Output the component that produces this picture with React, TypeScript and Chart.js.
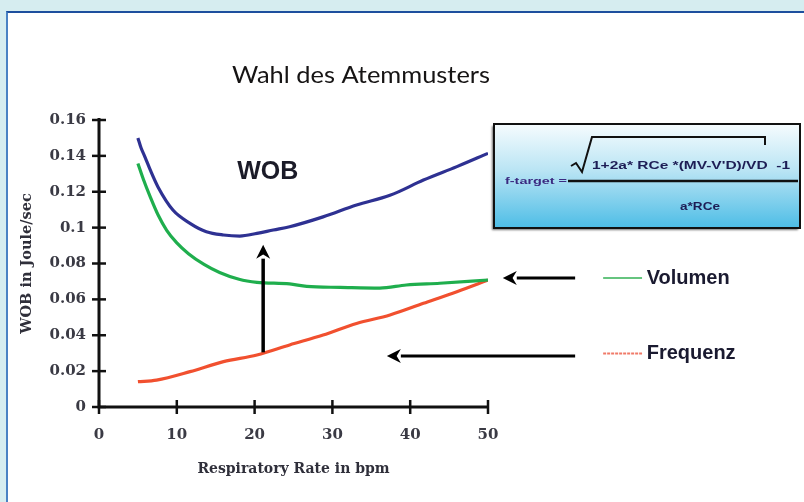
import React, { useEffect, useRef } from 'react';
import { Chart, registerables } from 'chart.js';

Chart.register(...registerables);

// ---- data ----
const xTicks = [0, 10, 20, 30, 40, 50];
const yTickLabels = ['0', '0.02', '0.04', '0.06', '0.08', '0.1', '0.12', '0.14', '0.16'];

const wobRate = [5.0, 5.4, 5.9, 6.6, 7.6, 9.5, 11.7, 13.8, 16.0, 18.1, 20.3, 22.4, 24.5, 28.8, 33.1, 37.4, 41.7, 46.0, 50];
const wobValues = [0.150, 0.1445, 0.1395, 0.132, 0.1225, 0.1098, 0.1024, 0.0977, 0.0959, 0.0953, 0.0968, 0.0987, 0.1005, 0.106, 0.1126, 0.118, 0.1265, 0.134, 0.1414];

const volRate = [5.0, 5.7, 6.6, 7.6, 8.7, 10.0, 11.5, 13.5, 15.5, 18.0, 20.3, 24.5, 26.7, 31.0, 36.1, 39.5, 43.8, 50];
const volValues = [0.1358, 0.127, 0.117, 0.107, 0.0985, 0.0915, 0.0855, 0.0795, 0.075, 0.0712, 0.0695, 0.0686, 0.0672, 0.0667, 0.0663, 0.068, 0.069, 0.0708];

const freqRate = [5.0, 7.4, 11.7, 16.0, 20.3, 24.5, 28.8, 33.1, 37.4, 41.7, 46.0, 50];
const freqValues = [0.0141, 0.015, 0.0197, 0.0253, 0.029, 0.0346, 0.0401, 0.0466, 0.0513, 0.0578, 0.0643, 0.0708];

const seriesNames = ['WOB', 'Volumen', 'Frequenz'];

const pts = (xs: number[], ys: number[]) => xs.map((x, i) => ({ x, y: ys[i] }));

function fitText(ctx: CanvasRenderingContext2D, text: string, x: number, y: number, w: number, align: 'left' | 'center') {
  const m = ctx.measureText(text).width;
  const s = w / m;
  ctx.save();
  ctx.translate(x, y);
  ctx.scale(s, 1);
  ctx.textAlign = 'left';
  ctx.fillText(text, align === 'center' ? -m / 2 : 0, 0);
  ctx.restore();
}

function arrow(ctx: CanvasRenderingContext2D, x0: number, y0: number, x1: number, y1: number) {
  const ang = Math.atan2(y1 - y0, x1 - x0);
  const hl = 14, hw = 7;
  const bx = x1 - Math.cos(ang) * hl, by = y1 - Math.sin(ang) * hl;
  ctx.beginPath();
  ctx.moveTo(x0, y0);
  ctx.lineTo(bx, by);
  ctx.stroke();
  ctx.beginPath();
  ctx.moveTo(x1, y1);
  ctx.lineTo(bx + Math.sin(ang) * hw, by - Math.cos(ang) * hw);
  ctx.lineTo(x1 - Math.cos(ang) * hl * 0.7, y1 - Math.sin(ang) * hl * 0.7);
  ctx.lineTo(bx - Math.sin(ang) * hw, by + Math.cos(ang) * hw);
  ctx.closePath();
  ctx.fill();
}

const axesPlugin = {
  id: 'axesPlugin',
  beforeDatasetsDraw(chart: any) {
    const ctx: CanvasRenderingContext2D = chart.ctx;
    const xs = chart.scales.x, ys = chart.scales.y;
    const X = (v: number) => xs.getPixelForValue(v);
    const Y = (v: number) => ys.getPixelForValue(v);
    ctx.save();
    ctx.strokeStyle = '#111';
    ctx.lineWidth = 3;
    ctx.beginPath();
    ctx.moveTo(X(0), Y(0.16) - 2);
    ctx.lineTo(X(0), Y(0));
    ctx.lineTo(X(50), Y(0));
    ctx.stroke();
    ctx.lineWidth = 2.5;
    ys.ticks.forEach((t: any) => {
      const y = Y(t.value);
      ctx.beginPath();
      ctx.moveTo(X(0) - 7, y);
      ctx.lineTo(X(0) + 7, y);
      ctx.stroke();
    });
    xs.ticks.forEach((t: any) => {
      const x = X(t.value);
      ctx.beginPath();
      ctx.moveTo(x, Y(0) - 7);
      ctx.lineTo(x, Y(0) + 7);
      ctx.stroke();
    });
    ctx.restore();
  },
};

const decorPlugin = {
  id: 'decorPlugin',
  afterDraw(chart: any) {
    const ctx: CanvasRenderingContext2D = chart.ctx;
    const xs = chart.scales.x, ys = chart.scales.y;
    const X = (v: number) => xs.getPixelForValue(v);
    const Y = (v: number) => ys.getPixelForValue(v);
    ctx.save();

    // title
    ctx.fillStyle = '#161414';
    ctx.font = '23px Lato';
    ctx.textBaseline = 'alphabetic';
    fitText(ctx, 'Wahl des Atemmusters', 232, 83, 258, 'left');

    // WOB label
    ctx.font = 'bold 25px "Liberation Sans"';
    ctx.textBaseline = 'middle';
    ctx.textAlign = 'center';
    ctx.fillStyle = '#1b1b28';
    ctx.fillText(seriesNames[0], X(21.7), Y(0.131));

    // arrows
    ctx.strokeStyle = '#000';
    ctx.fillStyle = '#000';
    ctx.lineWidth = 3.5;
    arrow(ctx, X(21.1), Y(0.0305), X(21.1), Y(0.0905));
    ctx.lineWidth = 3;
    arrow(ctx, X(61.2), Y(0.0719), X(51.9), Y(0.0719));
    arrow(ctx, X(61.2), Y(0.0285), X(37.0), Y(0.0285));

    // legend
    const legendItems = [
      { name: seriesNames[1], color: '#66c47f', y: 0.0719, dash: [] as number[] },
      { name: seriesNames[2], color: '#f07a68', y: 0.0298, dash: [3, 1] },
    ];
    legendItems.forEach((it) => {
      ctx.strokeStyle = it.color;
      ctx.lineWidth = 2;
      ctx.setLineDash(it.dash);
      ctx.beginPath();
      ctx.moveTo(X(64.8), Y(it.y));
      ctx.lineTo(X(69.8), Y(it.y));
      ctx.stroke();
      ctx.setLineDash([]);
      ctx.fillStyle = '#1a1a30';
      ctx.font = 'bold 20px "Liberation Sans"';
      ctx.textAlign = 'left';
      ctx.textBaseline = 'middle';
      ctx.fillText(it.name, X(70.4), Y(it.y));
    });

    // formula box
    const bx0 = 494, by0 = 124, bx1 = 800, by1 = 228;
    const g = ctx.createLinearGradient(0, by0, 0, by1);
    g.addColorStop(0, '#f6fcfe');
    g.addColorStop(0.45, '#b9e4f4');
    g.addColorStop(1, '#4dbde6');
    ctx.save();
    ctx.shadowColor = 'rgba(0,0,0,0.55)';
    ctx.shadowOffsetX = -2;
    ctx.shadowOffsetY = 2;
    ctx.shadowBlur = 2;
    ctx.fillStyle = g;
    ctx.fillRect(bx0, by0, bx1 - bx0, by1 - by0);
    ctx.restore();
    ctx.strokeStyle = '#111';
    ctx.lineWidth = 2;
    ctx.strokeRect(bx0, by0, bx1 - bx0, by1 - by0);

    // fraction line
    ctx.lineWidth = 2.5;
    ctx.beginPath();
    ctx.moveTo(568, 181);
    ctx.lineTo(798, 181);
    ctx.stroke();
    // sqrt sign
    ctx.lineWidth = 2;
    ctx.beginPath();
    ctx.moveTo(571, 166);
    ctx.lineTo(576, 163);
    ctx.lineTo(582, 172);
    ctx.lineTo(592, 137);
    ctx.lineTo(765, 137);
    ctx.lineTo(765, 145);
    ctx.stroke();

    ctx.textBaseline = 'middle';
    ctx.fillStyle = '#3b2a80';
    ctx.font = 'bold 9px "Liberation Sans"';
    fitText(ctx, 'f-target =', 505, 182, 62, 'left');
    ctx.fillStyle = '#1d1d55';
    ctx.font = 'bold 10px "Liberation Sans"';
    fitText(ctx, "1+2a* RCe *(MV-V'D)/VD  -1", 592, 166, 198, 'left');
    fitText(ctx, 'a*RCe', 700, 207, 40, 'center');

    ctx.restore();
  },
};

export default function App() {
  const ref = useRef<HTMLCanvasElement>(null);

  useEffect(() => {
    const tickFont = { family: '"DejaVu Serif"', weight: 'bold' as const, size: 15 };
    const chart = new Chart(ref.current!, {
      type: 'line',
      data: {
        datasets: [
          { label: seriesNames[0], data: pts(wobRate, wobValues), borderColor: '#2e3192', borderWidth: 3.2, pointRadius: 0, cubicInterpolationMode: 'monotone', fill: false },
          { label: seriesNames[1], data: pts(volRate, volValues), borderColor: '#1fae4d', borderWidth: 3.2, pointRadius: 0, cubicInterpolationMode: 'monotone', fill: false },
          { label: seriesNames[2], data: pts(freqRate, freqValues), borderColor: '#f1502f', borderWidth: 3.2, pointRadius: 0, cubicInterpolationMode: 'monotone', fill: false },
        ],
      },
      options: {
        responsive: false,
        animation: false,
        devicePixelRatio: 1,
        layout: { padding: { top: 120, right: 316, bottom: 0, left: 0 } },
        plugins: { legend: { display: false }, tooltip: { enabled: false }, title: { display: false } },
        scales: {
          x: {
            type: 'linear',
            min: 0,
            max: 50,
            afterBuildTicks: (s: any) => { s.ticks = xTicks.map((v) => ({ value: v })); },
            afterFit: (s: any) => { s.height = 95; },
            grid: { display: false, drawTicks: false },
            border: { display: false },
            ticks: { padding: 19, font: tickFont, color: '#3a3a44', maxRotation: 0, autoSkip: false },
            title: { display: true, text: 'Respiratory Rate in bpm', font: { family: '"DejaVu Serif"', weight: 'bold', size: 14 }, color: '#2f2f3a', padding: { top: 0, bottom: 24 } },
          },
          y: {
            type: 'linear',
            min: 0,
            max: 0.16,
            afterBuildTicks: (s: any) => { s.ticks = yTickLabels.map((l) => ({ value: parseFloat(l) })); },
            afterFit: (s: any) => { s.width = 99; },
            grid: { display: false, drawTicks: false },
            border: { display: false },
            ticks: {
              padding: 13,
              font: tickFont,
              color: '#3a3a44',
              autoSkip: false,
              callback: (v: any) => yTickLabels.find((l) => Math.abs(parseFloat(l) - Number(v)) < 1e-9) ?? '',
            },
            title: { display: true, text: 'WOB in Joule/sec', font: { family: '"DejaVu Serif"', weight: 'bold', size: 14.5 }, color: '#2f2f3a', padding: { top: 19, bottom: 0 } },
          },
        },
      },
      plugins: [axesPlugin, decorPlugin],
    } as any);
    return () => chart.destroy();
  }, []);

  return (
    <div style={{ position: 'fixed', left: 0, top: 0, width: 804, height: 502, background: '#d6edf0', overflow: 'hidden' }}>
      <div style={{ position: 'absolute', left: 6, top: 11, right: -4, bottom: -4, background: '#fff', borderLeft: '2px solid #4a82c4', borderTop: '2px solid #1d4f9e' }} />
      <canvas ref={ref} width={804} height={502} style={{ position: 'absolute', left: 0, top: 0, width: 804, height: 502 }} />
    </div>
  );
}
